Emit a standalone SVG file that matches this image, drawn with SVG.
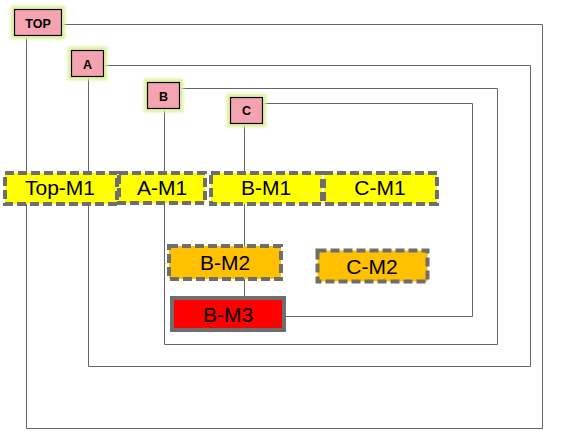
<svg xmlns="http://www.w3.org/2000/svg" width="564" height="437" viewBox="0 0 564 437">
<defs>
<filter id="glow" x="-40%" y="-40%" width="180%" height="180%">
<feMorphology in="SourceAlpha" operator="dilate" radius="2.5" result="d"/>
<feGaussianBlur in="d" stdDeviation="1.8" result="b"/>
<feFlood flood-color="#dcef9a" result="c"/>
<feComposite in="c" in2="b" operator="in" result="g"/>
<feMerge><feMergeNode in="g"/><feMergeNode in="SourceGraphic"/></feMerge>
</filter>
</defs>
<style>
.edge{fill:none;stroke:#666;stroke-width:1}
.hdr{fill:#f4a3b0;stroke:#000;stroke-width:1.2;filter:url(#glow)}
.hl{font-family:"Liberation Sans",Arial,sans-serif;font-weight:bold;font-size:12.5px;text-anchor:middle;fill:#000}
.m{stroke:#6e6e6e;stroke-width:4;stroke-dasharray:9 4}
.y{fill:#ffff00}
.o{fill:#ffc000}
.ml{font-family:"Liberation Sans",Arial,sans-serif;font-size:21px;text-anchor:middle;fill:#000}
</style>
<rect width="564" height="437" fill="#fff"/>
<g id="connectors">
<polyline class="edge" points="61.5,24.5 542.5,24.5 542.5,428.5 26.5,428.5 26.5,35"/>
<polyline class="edge" points="103.5,65.5 530.5,65.5 530.5,366.5 88.5,366.5 88.5,76"/>
<polyline class="edge" points="179.5,88.5 497.5,88.5 497.5,344.5 164.5,344.5 164.5,108"/>
<polyline class="edge" points="262.5,103.5 472.5,103.5 472.5,316.5 285,316.5"/>
<line class="edge" x1="244.5" y1="123" x2="244.5" y2="298"/>
</g>
<g id="TOP"><rect class="hdr" x="14.5" y="9.5" width="47" height="26"/><text class="hl" x="38" y="27.5">TOP</text></g>
<g id="A"><rect class="hdr" x="71.5" y="50.5" width="32" height="26"/><text class="hl" x="87.5" y="69">A</text></g>
<g id="B"><rect class="hdr" x="147.5" y="82.5" width="32" height="26"/><text class="hl" x="163.5" y="101">B</text></g>
<g id="C"><rect class="hdr" x="230.5" y="97.5" width="32" height="26"/><text class="hl" x="246.5" y="115">C</text></g>
<g id="Top-M1"><rect class="m y" x="5" y="173" width="112" height="31"/><text class="ml" x="60" y="195">Top-M1</text></g>
<g id="A-M1"><rect class="m y" x="119" y="173" width="86" height="30"/><text class="ml" x="162" y="195">A-M1</text></g>
<g id="B-M1"><rect class="m y" x="211" y="173" width="111" height="31"/><text class="ml" x="266" y="195">B-M1</text></g>
<g id="C-M1"><rect class="m y" x="324" y="173" width="113" height="31"/><text class="ml" x="380" y="195">C-M1</text></g>
<g id="B-M2"><rect class="m o" x="169" y="246" width="112" height="33"/><text class="ml" x="225" y="270">B-M2</text></g>
<g id="C-M2"><rect class="m o" x="317.5" y="250.5" width="110" height="31"/><text class="ml" x="372" y="274">C-M2</text></g>
<g id="B-M3"><rect x="172" y="298" width="112" height="32" fill="#ff0000" stroke="#6e6e6e" stroke-width="4"/><text class="ml" x="228" y="322">B-M3</text></g>
</svg>
